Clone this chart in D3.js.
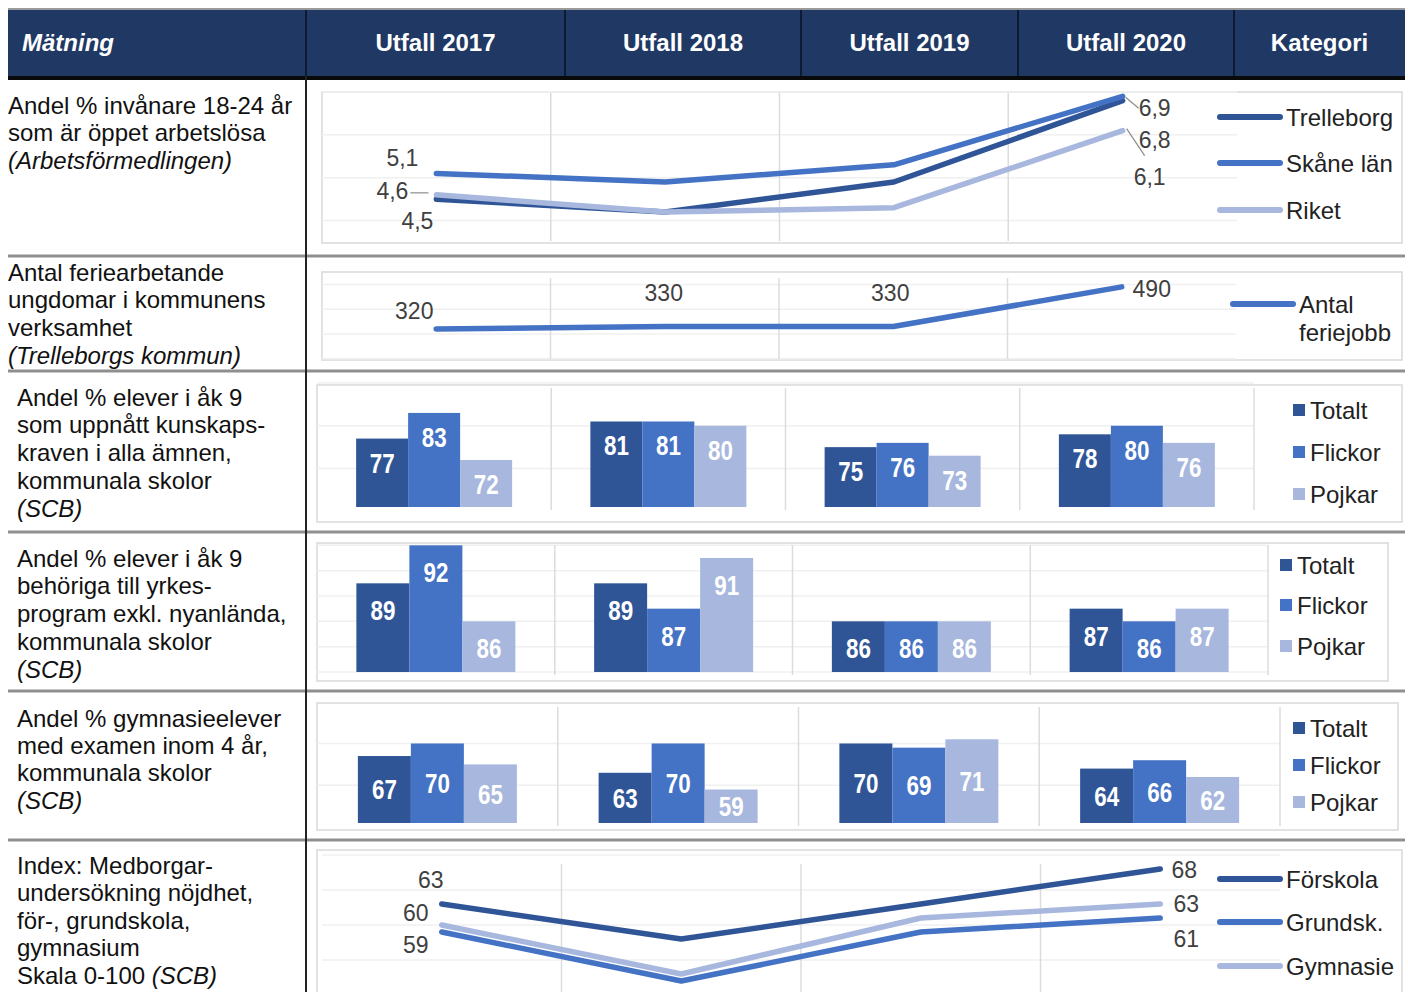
<!DOCTYPE html>
<html>
<head>
<meta charset="utf-8">
<style>
  body { margin: 0; background: #fff; }
  svg { display: block; }
  .cell { font-family: 'Liberation Sans', Arial, sans-serif; font-size: 24px; fill: #111; }
  .head { font-family: 'Liberation Sans', Arial, sans-serif; font-size: 24px; font-weight: bold; fill: #fff; }
  .legend { font-family: 'Liberation Sans', Arial, sans-serif; font-size: 24px; fill: #222; }
  .val { font-family: 'Liberation Sans', Arial, sans-serif; font-size: 23px; fill: #404040; }
  .barval { font-family: 'Liberation Sans Narrow', 'Arial Narrow', 'Liberation Sans', sans-serif; font-size: 28px; font-weight: bold; fill: #fff; }
</style>
</head>
<body>
<script src="https://d3js.org/d3.v7.min.js"></script>
<script>
// ---- data ----
var years = ["Utfall 2017", "Utfall 2018", "Utfall 2019", "Utfall 2020"];
var headerFirst = "Mätning";
var headerLast = "Kategori";

var unemploymentNames = ["Trelleborg", "Skåne län", "Riket"];
var unemploymentTrelleborg = [4.5, 4.2, 4.9, 6.8];
var unemploymentSkane = [5.1, 4.9, 5.3, 6.9];
var unemploymentRiket = [4.6, 4.2, 4.3, 6.1];

var summerJobLegend = ["Antal", "feriejobb"];
var summerJobs = [320, 330, 330, 490];

var groupNames = ["Totalt", "Flickor", "Pojkar"];
var knowledgeTotalt = [77, 81, 75, 78];
var knowledgeFlickor = [83, 81, 76, 80];
var knowledgePojkar = [72, 80, 73, 76];

var vocationalTotalt = [89, 89, 86, 87];
var vocationalFlickor = [92, 87, 86, 86];
var vocationalPojkar = [86, 91, 86, 87];

var examTotalt = [67, 63, 70, 64];
var examFlickor = [70, 70, 69, 66];
var examPojkar = [65, 59, 71, 62];

var satisfactionNames = ["Förskola", "Grundsk.", "Gymnasie"];
var satisfactionForskola = [63, 58, 63, 68];
var satisfactionGrundskola = [59, 52, 59, 61];
var satisfactionGymnasie = [60, 53, 61, 63];

var rowTexts = [
  ["Andel % invånare 18-24 år", "som är öppet arbetslösa", "(Arbetsförmedlingen)"],
  ["Antal feriearbetande", "ungdomar i kommunens", "verksamhet", "(Trelleborgs kommun)"],
  ["Andel % elever i åk 9", "som uppnått kunskaps-", "kraven i alla ämnen,", "kommunala skolor", "(SCB)"],
  ["Andel % elever i åk 9", "behöriga till yrkes-", "program exkl. nyanlända,", "kommunala skolor", "(SCB)"],
  ["Andel % gymnasieelever", "med examen inom 4 år,", "kommunala skolor", "(SCB)"],
  ["Index: Medborgar-", "undersökning nöjdhet,", "för-, grundskola,", "gymnasium", "Skala 0-100 (SCB)"]
];

// ---- colours / layout ----
var dark = "#2f5597", mid = "#4472c4", light = "#a7b7de";
var W = 1408, H = 992;
var colEdges = [8, 306, 565, 801, 1018, 1234, 1405];
var rowSeps = [256, 371, 532, 691, 840];
var textPos = [[8, 105, 27.5], [8, 272, 27.7], [17, 397, 27.75], [17, 558, 27.75], [17, 718, 27.3], [17, 865, 27.5]];

var comma = d3.formatLocale({decimal: ",", thousands: " ", grouping: [3], currency: ["", " kr"]});

var svg = d3.select("body").append("svg")
  .attr("width", W)
  .attr("height", H);

svg.append("rect").attr("width", W).attr("height", H).attr("fill", "#fff");

// header
svg.append("line").attr("x1", 8).attr("x2", 1405).attr("y1", 9).attr("y2", 9)
  .attr("stroke", "#9a9a9a").attr("stroke-width", 2);
svg.append("rect").attr("x", 8).attr("y", 10).attr("width", 1397).attr("height", 66).attr("fill", "#1f3864");
svg.append("rect").attr("x", 8).attr("y", 76).attr("width", 1397).attr("height", 4).attr("fill", "#0a0a0a");

svg.selectAll(".hsep").data(colEdges.slice(1, -1)).enter().append("line")
  .attr("x1", function(d) { return d; }).attr("x2", function(d) { return d; })
  .attr("y1", 10).attr("y2", 76)
  .attr("stroke", "#0c1a33").attr("stroke-width", 2);

var headers = [headerFirst].concat(years).concat([headerLast]);
svg.selectAll(".head").data(headers).enter().append("text")
  .attr("class", "head")
  .attr("x", function(d, i) { return i === 0 ? 22 : (colEdges[i] + colEdges[i + 1]) / 2; })
  .attr("y", 42)
  .attr("dominant-baseline", "central")
  .attr("text-anchor", function(d, i) { return i === 0 ? "start" : "middle"; })
  .attr("font-style", function(d, i) { return i === 0 ? "italic" : null; })
  .text(function(d) { return d; });

// grid of table
svg.selectAll(".rsep").data(rowSeps).enter().append("line")
  .attr("x1", 8).attr("x2", 1405)
  .attr("y1", function(d) { return d; }).attr("y2", function(d) { return d; })
  .attr("stroke", "#8f8f8f").attr("stroke-width", 3);

svg.append("line").attr("x1", 306).attr("x2", 306).attr("y1", 76).attr("y2", H)
  .attr("stroke", "#222").attr("stroke-width", 2);

// left column texts
rowTexts.forEach(function(lines, r) {
  var p = textPos[r];
  lines.forEach(function(line, i) {
    var t = svg.append("text").attr("class", "cell")
      .attr("x", p[0]).attr("y", p[1] + i * p[2])
      .attr("dominant-baseline", "central");
    var k = line.indexOf("(");
    if (k < 0) {
      t.text(line);
    } else {
      if (k > 0) t.append("tspan").text(line.slice(0, k));
      t.append("tspan").attr("font-style", "italic").text(line.slice(k));
    }
  });
});

// ---- line charts ----
function lineChart(cfg) {
  var g = svg.append("g");
  g.append("rect")
    .attr("x", cfg.panel[0]).attr("y", cfg.panel[1])
    .attr("width", cfg.panel[2] - cfg.panel[0]).attr("height", cfg.panel[3] - cfg.panel[1])
    .attr("fill", "#fff").attr("stroke", "#d9d9d9").attr("stroke-width", 1.5);

  var x = d3.scaleBand().domain(years).range([cfg.plotLeft, cfg.plotRight]);
  var y = d3.scaleLinear().domain(cfg.yDomain).range([cfg.plotBottom, cfg.plotTop]);
  var cx = function(i) { return x(years[i]) + x.bandwidth() / 2; };

  g.selectAll(".hg").data(y.ticks(cfg.ticks)).enter().append("line")
    .attr("x1", cfg.plotLeft).attr("x2", cfg.plotRight)
    .attr("y1", function(d) { return y(d); }).attr("y2", function(d) { return y(d); })
    .attr("stroke", "#f0f0f0").attr("stroke-width", 1.5);

  g.selectAll(".vg").data(years.slice(1)).enter().append("line")
    .attr("x1", function(d) { return x(d); }).attr("x2", function(d) { return x(d); })
    .attr("y1", cfg.gridTop).attr("y2", cfg.plotBottom - 1)
    .attr("stroke", "#dcdcdc").attr("stroke-width", 1.5);

  var line = d3.line()
    .x(function(d, i) { return cx(i); })
    .y(function(d) { return y(d); });

  cfg.series.forEach(function(s) {
    g.append("path").datum(s.values)
      .attr("d", line)
      .attr("fill", "none")
      .attr("stroke", s.color)
      .attr("stroke-width", 5.5)
      .attr("stroke-linecap", "round")
      .attr("stroke-linejoin", "round");
  });

  cfg.labels.forEach(function(l) {
    var s = cfg.series[l[0]];
    var v = s.values[l[1]];
    var px = cx(l[1]), py = y(v);
    if (l[4]) {
      g.append("line")
        .attr("x1", px + l[4][0]).attr("y1", py + l[4][1])
        .attr("x2", px + l[4][2]).attr("y2", py + l[4][3])
        .attr("stroke", "#8c8c8c").attr("stroke-width", 1.2);
    }
    g.append("text").attr("class", "val")
      .attr("x", px + l[2]).attr("y", py + l[3])
      .attr("text-anchor", "middle")
      .attr("dominant-baseline", "central")
      .text(cfg.format(v));
  });

  cfg.series.forEach(function(s, i) {
    var ly = cfg.legend.ys[i];
    g.append("line")
      .attr("x1", cfg.legend.x).attr("x2", cfg.legend.x + 60)
      .attr("y1", ly).attr("y2", ly)
      .attr("stroke", s.color).attr("stroke-width", 6).attr("stroke-linecap", "round");
    var names = [].concat(s.name);
    names.forEach(function(n, j) {
      g.append("text").attr("class", "legend")
        .attr("x", cfg.legend.x + 66).attr("y", ly + j * 28)
        .attr("dominant-baseline", "central")
        .attr("fill", cfg.legend.color || "#222")
        .text(n);
    });
  });
}

// ---- bar charts ----
function barChart(cfg) {
  var g = svg.append("g");
  g.append("rect")
    .attr("x", cfg.panel[0]).attr("y", cfg.panel[1])
    .attr("width", cfg.panel[2] - cfg.panel[0]).attr("height", cfg.panel[3] - cfg.panel[1])
    .attr("fill", "#fff").attr("stroke", "#d9d9d9").attr("stroke-width", 1.5);

  var x = d3.scaleBand().domain(years).range([cfg.plotLeft, cfg.plotRight]);
  var xi = d3.scaleBand().domain(groupNames).range([-1.5 * cfg.barWidth, 1.5 * cfg.barWidth]);
  var y = d3.scaleLinear().domain(cfg.yDomain).range([cfg.plotBottom, cfg.plotTop]);
  var colors = [dark, mid, light];

  g.selectAll(".hg").data(y.ticks(cfg.ticks)).enter().append("line")
    .attr("x1", cfg.plotLeft).attr("x2", cfg.plotRight)
    .attr("y1", function(d) { return y(d); }).attr("y2", function(d) { return y(d); })
    .attr("stroke", "#f0f0f0").attr("stroke-width", 1.5);

  g.selectAll(".vg").data(years.slice(1).concat(["end"])).enter().append("line")
    .attr("x1", function(d) { return d === "end" ? cfg.plotRight : x(d); })
    .attr("x2", function(d) { return d === "end" ? cfg.plotRight : x(d); })
    .attr("y1", cfg.gridTop).attr("y2", cfg.plotBottom + 3)
    .attr("stroke", "#dcdcdc").attr("stroke-width", 1.5);

  cfg.series.forEach(function(vals, si) {
    var bars = g.append("g");
    vals.forEach(function(v, i) {
      var bx = x(years[i]) + x.bandwidth() / 2 + xi(groupNames[si]);
      bars.append("rect")
        .attr("x", bx).attr("y", y(v))
        .attr("width", xi.bandwidth()).attr("height", y(cfg.yDomain[0]) - y(v))
        .attr("fill", colors[si]);
    });
  });

  cfg.series.forEach(function(vals, si) {
    vals.forEach(function(v, i) {
      var bx = x(years[i]) + x.bandwidth() / 2 + xi(groupNames[si]) + xi.bandwidth() / 2;
      var ly = cfg.labelMode === "center" ? (y(v) + cfg.plotBottom) / 2 : y(v) + cfg.labelOffset;
      // condensed digits, as in the original
      g.append("text").attr("class", "barval")
        .attr("transform", "translate(" + bx + "," + ly + ") scale(0.8,1)")
        .attr("text-anchor", "middle")
        .attr("dominant-baseline", "central")
        .attr("fill", si === 2 ? "#f2f5fb" : "#fff")
        .text(v);
    });
  });

  groupNames.forEach(function(n, i) {
    var ly = cfg.legend.ys[i];
    g.append("rect")
      .attr("x", cfg.legend.x).attr("y", ly - 6)
      .attr("width", 12).attr("height", 12)
      .attr("fill", colors[i]);
    g.append("text").attr("class", "legend")
      .attr("x", cfg.legend.x + 17).attr("y", ly)
      .attr("dominant-baseline", "central")
      .text(n);
  });
}

var fmt1 = comma.format(".1f");
var fmt0 = d3.format("d");

lineChart({
  panel: [322, 92, 1402, 243],
  plotLeft: 322, plotRight: 1237, plotTop: 92, plotBottom: 242, gridTop: 93,
  yDomain: [3.5, 7], ticks: 4,
  series: [
    {name: unemploymentNames[0], values: unemploymentTrelleborg, color: dark},
    {name: unemploymentNames[1], values: unemploymentSkane, color: mid},
    {name: unemploymentNames[2], values: unemploymentRiket, color: light}
  ],
  labels: [
    [1, 0, -34, -15], [2, 0, -44, -4, [-26, -2, -8, -2]], [0, 0, -19, 22],
    [1, 3, 32, 12, [3, 1, 16, 12]], [0, 3, 32, 39, [4, 28, 22, 55]], [2, 3, 27, 46]
  ],
  format: fmt1,
  legend: {x: 1220, ys: [117, 163, 210]}
});

lineChart({
  panel: [322, 272, 1402, 360],
  plotLeft: 322, plotRight: 1236, plotTop: 272, plotBottom: 360, gridTop: 278,
  yDomain: [195, 550], ticks: 4,
  series: [{name: summerJobLegend, values: summerJobs, color: mid}],
  labels: [[0, 0, -22, -18], [0, 1, -1, -34], [0, 2, -3, -34], [0, 3, 30, 2]],
  format: fmt0,
  legend: {x: 1233, ys: [304]}
});

barChart({
  panel: [317, 385, 1402, 522],
  plotLeft: 317, plotRight: 1254, plotTop: 383, plotBottom: 507, gridTop: 388,
  yDomain: [61, 90], ticks: 3, barWidth: 52,
  series: [knowledgeTotalt, knowledgeFlickor, knowledgePojkar],
  labelMode: "end", labelOffset: 24,
  legend: {x: 1293, ys: [410, 452, 494]}
});

barChart({
  panel: [317, 543, 1388, 681],
  plotLeft: 317, plotRight: 1268, plotTop: 539, plotBottom: 672, gridTop: 545,
  yDomain: [82, 92.5], ticks: 5, barWidth: 53,
  series: [vocationalTotalt, vocationalFlickor, vocationalPojkar],
  labelMode: "end", labelOffset: 27,
  legend: {x: 1280, ys: [565, 605, 646]}
});

barChart({
  panel: [317, 703, 1398, 830],
  plotLeft: 317, plotRight: 1280, plotTop: 710, plotBottom: 823, gridTop: 707,
  yDomain: [51, 78], ticks: 3, barWidth: 53,
  series: [examTotalt, examFlickor, examPojkar],
  labelMode: "center",
  legend: {x: 1293, ys: [728, 765, 802]}
});

lineChart({
  panel: [317, 850, 1402, 1000],
  plotLeft: 322, plotRight: 1280, plotTop: 855, plotBottom: 995, gridTop: 864,
  yDomain: [50, 70], ticks: 4,
  series: [
    {name: satisfactionNames[0], values: satisfactionForskola, color: dark},
    {name: satisfactionNames[1], values: satisfactionGrundskola, color: mid},
    {name: satisfactionNames[2], values: satisfactionGymnasie, color: light}
  ],
  labels: [
    [0, 0, -11, -24], [2, 0, -26, -12], [1, 0, -26, 13],
    [0, 3, 24, 1], [2, 3, 26, 0], [1, 3, 26, 21]
  ],
  format: fmt0,
  legend: {x: 1220, ys: [879, 922, 966], color: "#555"}
});
</script>
</body>
</html>
